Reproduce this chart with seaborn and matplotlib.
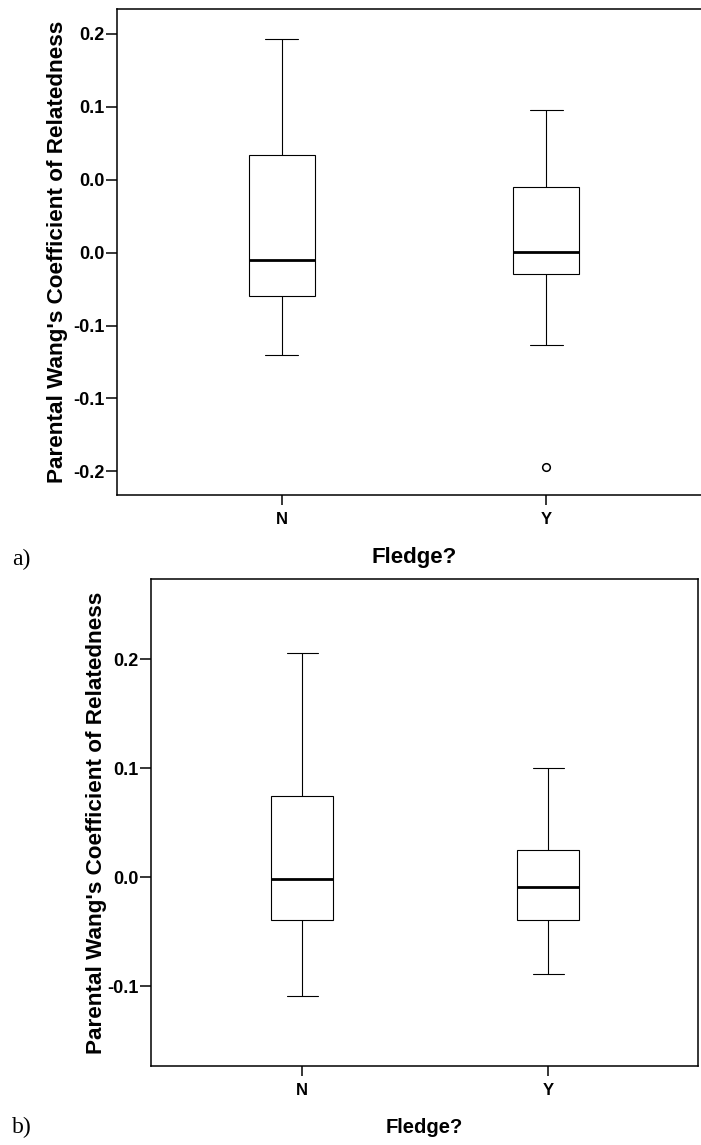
import numpy as np
import pandas as pd
import matplotlib
matplotlib.use("Agg")
import matplotlib.pyplot as plt
import seaborn as sns

# ---------------- data ----------------
categories = ["N", "Y"]

# panel a) raw values chosen to reproduce the read-off box statistics
a_N = [-0.0699, -0.0294, -0.0049, 0.0670, 0.1468]
a_Y = [-0.1470, -0.0635, -0.0147, -0.0080, 0.0005, 0.0200, 0.0449, 0.0700, 0.0976]

# panel b)
b_N = [-0.1088, -0.0395, -0.0017, 0.0743, 0.2055]
b_Y = [-0.0890, -0.0395, -0.0086, 0.0253, 0.1000]

a_yticks = [0.15, 0.10, 0.05, 0.00, -0.05, -0.10, -0.15]
a_yticklabels = ["0.2", "0.1", "0.0", "0.0", "-0.1", "-0.1", "-0.2"]
b_yticks = [0.2, 0.1, 0.0, -0.1]
b_yticklabels = ["0.2", "0.1", "0.0", "-0.1"]

ylabel = "Parental Wang's Coefficient of Relatedness"
xlabel = "Fledge?"

# ---------------- style ----------------
sns.set_style("white")
plt.rcParams["font.family"] = ["Liberation Sans", "DejaVu Sans"]
plt.rcParams["font.weight"] = "bold"
for key in ["text.color", "axes.labelcolor", "xtick.color", "ytick.color", "axes.edgecolor"]:
    plt.rcParams[key] = "black"

W, H = 701, 1145
fig = plt.figure(figsize=(W / 100, H / 100), dpi=100)


def px_axes(left, top, right, bottom):
    return fig.add_axes([left / W, 1 - bottom / H, (right - left) / W, (bottom - top) / H])


def make_df(n_vals, y_vals):
    return pd.DataFrame({
        "Fledge": [categories[0]] * len(n_vals) + [categories[1]] * len(y_vals),
        "value": list(n_vals) + list(y_vals),
    })


def draw(ax, df, ylim, xlim, yticks, yticklabels, ylab_x, xlab_y, ylab_size, xlab_size):
    sns.boxplot(
        data=df, x="Fledge", y="value", order=categories, ax=ax,
        width=0.25, color="white", linecolor="black", linewidth=0.8,
        fliersize=5.5,
        medianprops=dict(linewidth=2.0, color="black"),
        flierprops=dict(marker="o", markerfacecolor="white",
                        markeredgecolor="black", markeredgewidth=1.1),
    )
    ax.set_ylim(*ylim)
    ax.set_xlim(*xlim)
    ax.set_yticks(yticks)
    ax.set_yticklabels(yticklabels, fontsize=13, fontweight="bold", color="black")
    ax.set_xticks(range(len(categories)))
    ax.set_xticklabels(categories, fontsize=12, fontweight="bold", color="black")
    ax.tick_params(axis="y", direction="out", length=8, width=1.1, pad=1, left=True, color="black")
    ax.tick_params(axis="x", direction="out", length=7.5, width=1.1, pad=5, bottom=True, color="black")
    for s in ax.spines.values():
        s.set_color("black")
        s.set_linewidth(1.1)
    ax.set_ylabel(ylabel, fontsize=ylab_size, fontweight="bold", color="black")
    ax.yaxis.label.set_verticalalignment("center")
    ax.yaxis.set_label_coords(ylab_x, 0.5)
    ax.set_xlabel(xlabel, fontsize=xlab_size, fontweight="bold", color="black")
    ax.xaxis.label.set_verticalalignment("center")
    ax.xaxis.set_label_coords(0.5, xlab_y)
    ax.grid(False)


# panel a (right edge extends a little past the image)
ax1 = px_axes(117, 8.6, 710.7, 495)
draw(ax1, make_df(a_N, a_Y), (-0.1662, 0.1674), (-0.6234, 1.623),
     a_yticks, a_yticklabels, -0.101, -0.1295, 16.2, 16)

# panel b
ax2 = px_axes(150.7, 579.4, 698.3, 1065.6)
draw(ax2, make_df(b_N, b_Y), (-0.173, 0.2734), (-0.6154, 1.6098),
     b_yticks, b_yticklabels, -0.099, -0.1265, 16.2, 14.5)

fig.text(12 / W, 1 - 559 / H, "a)", family="Liberation Serif", fontweight="normal",
         fontsize=17, ha="left", va="center", color="black")
fig.text(12 / W, 1 - 1127 / H, "b)", family="Liberation Serif", fontweight="normal",
         fontsize=17, ha="left", va="center", color="black")

fig.savefig("out.png", dpi=100)
